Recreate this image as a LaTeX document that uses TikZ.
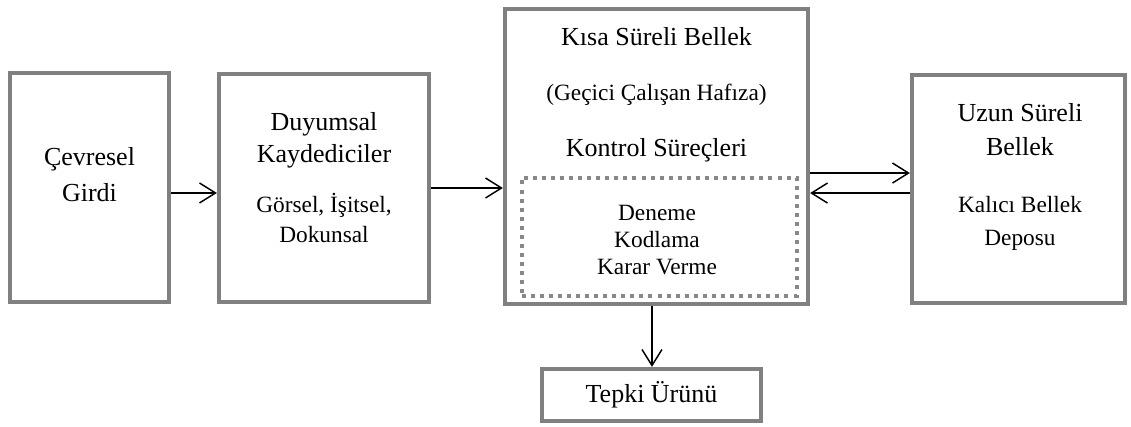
\documentclass[tikz,border=0pt]{standalone}
\usepackage{fontspec}
\setmainfont{Liberation Serif}
\usetikzlibrary{arrows.meta}
\definecolor{frame}{RGB}{128, 128, 128}
\definecolor{dots}{RGB}{136, 136, 136}

\begin{document}
\begin{tikzpicture}[x = 0.75pt, y = -0.75pt,
    box/.style = {draw = frame, line width = 3.2pt, inner sep = 0pt},
    dotbox/.style = {draw = dots, line width = 3pt, dash pattern = on 3pt off 3.8pt, inner sep = 0pt},
    arr/.style = {-{Straight Barb[length = 12pt, width = 15pt]}, line width = 1.1pt},
    lbl/.style = {align = center, inner sep = 0pt}]
    \useasboundingbox (0, 0) rectangle (1131, 426);

    \node[box, minimum width = 119.25pt, minimum height = 171.75pt] (input) at (89.5, 187.5) {};
    \node[box, minimum width = 157.5pt, minimum height = 171pt] (sensory) at (324, 188) {};
    \node[box, minimum width = 227.25pt, minimum height = 221.25pt] (stm) at (656.5, 156.5) {};
    \node[dotbox, minimum width = 206.25pt, minimum height = 88.5pt] (control) at (659, 236.5) {};
    \node[box, minimum width = 159.75pt, minimum height = 171pt] (ltm) at (1018.5, 189) {};
    \node[box, minimum width = 164.25pt, minimum height = 39pt] (response) at (651.5, 395) {};

    \node[lbl, font = \fontsize{19.5}{27}\selectfont] (inputtext) at (89.5, 175) {Çevresel \\ Girdi};
    \node[lbl, font = \fontsize{19.5}{24}\selectfont] (sensorytitle) at (324, 140) {Duyumsal \\ Kaydediciler};
    \node[lbl, font = \fontsize{17.5}{22.5}\selectfont] (sensorytext) at (324, 218) {Görsel, İşitsel, \\ Dokunsal};
    \node[lbl, font = \fontsize{19.5}{24}\selectfont] (stmtitle) at (656.5, 37) {Kısa Süreli Bellek};
    \node[lbl, font = \fontsize{17.5}{22}\selectfont] (stmtext) at (656.5, 95) {(Geçici Çalışan Hafıza)};
    \node[lbl, font = \fontsize{19.5}{24}\selectfont] (controltitle) at (656.5, 150) {Kontrol Süreçleri};
    \node[lbl, font = \fontsize{17.5}{20.6}\selectfont] (controltext) at (657, 240) {Deneme \\ Kodlama \\ Karar Verme};
    \node[lbl, font = \fontsize{19.5}{26}\selectfont] (ltmtitle) at (1020, 129.5) {Uzun Süreli \\ Bellek};
    \node[lbl, font = \fontsize{17.5}{24.75}\selectfont] (ltmtext) at (1020, 223.5) {Kalıcı Bellek \\ Deposu};
    \node[lbl, font = \fontsize{19.5}{24}\selectfont] (responsetext) at (651.5, 395) {Tepki Ürünü};

    \coordinate (inout) at ([yshift = -4.1pt]input.east);
    \coordinate (store) at ([yshift = -12.4pt]stm.east);
    \coordinate (recall) at ([yshift = -27.4pt]stm.east);
    \coordinate (output) at ([xshift = -3.4pt]stm.south);

    \draw[arr] (inout) -- (inout -| sensory.west);
    \draw[arr] (sensory.east) -- (sensory.east -| stm.west);
    \draw[arr] (store) -- (store -| ltm.west);
    \draw[arr] (recall -| ltm.west) -- (recall);
    \draw[arr] (output) -- (output |- response.north);
\end{tikzpicture}
\end{document}
